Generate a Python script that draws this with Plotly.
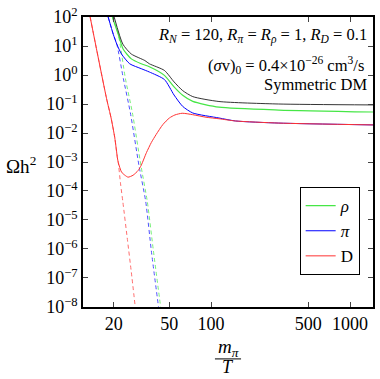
import plotly.graph_objects as go

# 读图估计的数据 (x = m_pi/T, y = Omega h^2)
x_rho = [19.5, 21.5, 23.3, 26.7, 31.5, 36.0, 46.2, 54.2, 62.5, 73.9, 114, 307, 1462]
y_rho = [100, 25.5, 7.9, 3.6, 2.44, 1.93, 0.97, 0.39, 0.20, 0.123, 0.078, 0.062, 0.053]

x_pi = [18.2, 19.8, 21.0, 22.7, 26.0, 31.5, 36.0, 46.2, 54.2, 62.5, 73.9, 114, 150, 307, 1462]
y_pi = [100, 25.5, 11.6, 5.3, 2.44, 1.65, 1.27, 0.70, 0.204, 0.083, 0.049, 0.033, 0.026, 0.022, 0.019]

x_D = [13.5, 17.7, 19.1, 20.3, 21.2, 21.5, 22.7, 24.0, 25.3, 27.5, 29.9, 31.5, 34.3, 37.2,
       40.3, 45.0, 50.2, 55, 62, 73.5, 92, 114, 150, 307, 1462]
y_D = [100, 0.158, 0.033, 6.9e-3, 1.4e-3, 9.8e-4, 4.5e-4, 3.5e-4, 3.0e-4, 3.5e-4, 5.1e-4, 7.8e-4,
       2.1e-3, 4.7e-3, 8.9e-3, 0.0195, 0.033, 0.042, 0.048, 0.043, 0.035, 0.031, 0.026, 0.022, 0.019]

x_tot = [20.1, 23.2, 26.7, 33.4, 36.0, 46.2, 54.2, 62.5, 73.9, 114, 307, 1462]
y_tot = [100, 11.6, 5.3, 3.16, 2.44, 1.44, 0.58, 0.29, 0.18, 0.122, 0.10, 0.093]

# 平衡态 (虚线)
x_rho_eq = [19.5, 21.5, 24.2, 27.2, 31.3, 34.8, 38.5, 43.4]
y_rho_eq = [100, 25.5, 0.76, 0.049, 7.6e-4, 4.3e-5, 8.6e-7, 1e-8]
x_pi_eq = [18.2, 19.8, 21.0, 23.4, 26.3, 30.3, 33.9, 37.2, 41.9]
y_pi_eq = [100, 25.5, 11.6, 0.76, 0.049, 7.6e-4, 4.3e-5, 8.6e-7, 1e-8]
x_D_eq = [13.5, 17.7, 19.1, 20.3, 21.2, 21.5, 22.4, 23.2, 25.1, 26.7, 28.5]
y_D_eq = [100, 0.158, 0.033, 6.9e-3, 1.4e-3, 9.8e-4, 1.6e-4, 4.3e-5, 1.9e-6, 1.6e-7, 1e-8]

x_ticks = [20, 50, 100, 500, 1000]
y_exps = [2, 1, 0, -1, -2, -3, -4, -5, -6, -7, -8]

FONT = "Liberation Serif"
GREEN, BLUE, RED = "rgb(70,230,70)", "rgb(0,0,255)", "rgb(255,50,50)"

fig = go.Figure()
for xs, ys, c in [(x_rho_eq, y_rho_eq, "rgb(120,240,120)"),
                  (x_pi_eq, y_pi_eq, "rgb(80,80,255)"),
                  (x_D_eq, y_D_eq, "rgb(255,110,110)")]:
    fig.add_trace(go.Scatter(x=xs, y=ys, mode="lines", showlegend=False,
                             line=dict(color=c, width=1, dash="4px,3px", shape="spline", smoothing=0.6)))

fig.add_trace(go.Scatter(x=x_rho, y=y_rho, mode="lines", name="<i>ρ</i>",
                         line=dict(color=GREEN, width=1.2, shape="spline", smoothing=0.6)))
fig.add_trace(go.Scatter(x=x_pi, y=y_pi, mode="lines", name="<i>π</i>",
                         line=dict(color=BLUE, width=1, shape="spline", smoothing=0.6)))
fig.add_trace(go.Scatter(x=x_D, y=y_D, mode="lines", name="D",
                         line=dict(color=RED, width=1, shape="spline", smoothing=0.6)))
fig.add_trace(go.Scatter(x=x_tot, y=y_tot, mode="lines", showlegend=False,
                         line=dict(color="rgb(30,30,30)", width=0.9, shape="spline", smoothing=0.6)))

fig.update_xaxes(type="log", range=[1.079, 3.165], tickvals=x_ticks, ticktext=[str(v) for v in x_ticks],
                 ticks="inside", ticklen=5, tickwidth=1.2, mirror="ticks", showline=True, linewidth=1.6,
                 linecolor="black", showgrid=False, zeroline=False, tickfont=dict(size=18),
                 ticklabeloverflow="allow")
fig.update_yaxes(type="log", range=[-8.001, 2.001], tickvals=[10.0 ** e for e in y_exps],
                 ticktext=["10<sup>%s</sup>" % str(e).replace("-", "−") for e in y_exps],
                 ticks="inside", ticklen=5, tickwidth=1.2, mirror="ticks", showline=True, linewidth=1.6,
                 linecolor="black", showgrid=False, zeroline=False, tickfont=dict(size=18),
                 ticklabeloverflow="allow")

ann = dict(xref="paper", yref="paper", showarrow=False, font=dict(size=16.5, family=FONT, color="black"))
big = dict(size=19, family=FONT, color="black")
fig.add_annotation(x=0.985, y=0.935, xanchor="right", yanchor="middle",
                   text="<i>R</i><sub><i>N</i></sub> = 120, <i>R</i><sub><i>π</i></sub> = <i>R</i><sub><i>ρ</i></sub> = 1, <i>R</i><sub><i>D</i></sub> = 0.1", **ann)
fig.add_annotation(x=0.975, y=0.835, xanchor="right", yanchor="middle",
                   text="(<i>σ</i>v)<sub>0</sub> = 0.4×10<sup>−26</sup> cm<sup>3</sup>/s", **ann)
fig.add_annotation(x=0.985, y=0.767, xanchor="right", yanchor="middle", text="Symmetric DM", **ann)
fig.add_annotation(x=-0.213, y=0.49, xanchor="center", yanchor="middle", text="Ωh<sup>2</sup>",
                   **{**ann, "font": big})
fig.add_annotation(x=0.50, y=-0.14, xanchor="center", yanchor="middle", text="<i>m</i><sub><i>π</i></sub>",
                   **{**ann, "font": big})
fig.add_annotation(x=0.50, y=-0.208, xanchor="center", yanchor="middle", text="<i>T</i>",
                   **{**ann, "font": dict(size=18, family=FONT, color="black")})
fig.add_shape(type="line", xref="paper", yref="paper", x0=0.455, x1=0.545, y0=-0.179, y1=-0.179,
              line=dict(color="black", width=1))

fig.update_layout(width=380, height=379, margin=dict(l=83, r=5, t=12, b=72),
                  paper_bgcolor="white", plot_bgcolor="white",
                  font=dict(family=FONT, size=18, color="black"),
                  legend=dict(x=0.954, y=0.11, xanchor="right", yanchor="bottom", bgcolor="white",
                              bordercolor="black", borderwidth=1, font=dict(size=17), itemwidth=30))

# 去掉页面 body 默认的 8px 边距，不显示工具栏
fig.write_html("out.html", post_script="document.body.style.margin='0';",
               config={"displayModeBar": False})
